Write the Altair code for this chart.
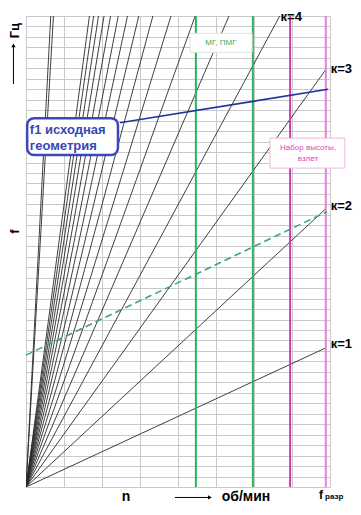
import altair as alt
import pandas as pd

# ---------------- data ----------------
x_grid = list(range(0, 9))      # vertical grid lines (n)
y_grid = list(range(0, 46))     # horizontal grid lines (f)

# harmonic orders k of the rays from the origin, and rise of f per unit n for k=1
k_values = [1, 2, 3, 4, 5, 6, 7, 8, 9, 10, 11, 12, 13, 14, 15, 16, 37, 41]
f_per_n_k1 = 1.685
n_razr = 7.9                    # rays end at f_razr

# f1 original geometry (blue)
f1_n = [2.47, 7.95]
f1_f = [34.8, 38.0]
# dashed green mode
fd_n = [0.0, 7.92]
fd_f = [12.6, 26.3]

# operating regimes (vertical lines)
reg_n = [4.47, 5.97, 6.95, 7.89]
reg_color = ["#2db35d", "#2db35d", "#cc3ab0", "#e681d8"]

# k labels
klab_text = ["к=4", "к=3", "к=2", "к=1"]
klab_n = [6.98, 8.3, 8.3, 8.3]
klab_f = [44.95, 39.9, 26.8, 13.66]

# ---------------- frames ----------------
rows = []
for k in k_values:
    rows.append({"line": f"k{k}", "n": 0.0, "f": 0.0})
    rows.append({"line": f"k{k}", "n": n_razr, "f": k * f_per_n_k1 * n_razr})
lines_df = pd.DataFrame(rows)

xs = alt.Scale(domain=[0, 8], nice=False, zero=False)
ys = alt.Scale(domain=[0, 45], nice=False, zero=False)
xa = alt.Axis(values=x_grid, grid=True, labels=False, ticks=False, domain=False,
              title=None, gridColor="#c9c9c9", gridWidth=1, gridOpacity=1)
ya = alt.Axis(values=y_grid, grid=True, labels=False, ticks=False, domain=False,
              title=None, gridColor="#c9c9c9", gridWidth=1, gridOpacity=1)


def X(field="n"):
    return alt.X(f"{field}:Q", scale=xs, axis=xa)


def Y(field="f"):
    return alt.Y(f"{field}:Q", scale=ys, axis=ya)


klines = alt.Chart(lines_df).mark_line(clip=True, color="#2a2a2a", strokeWidth=0.9).encode(
    x=X(), y=Y(), detail="line:N")

reg_df = pd.DataFrame({"n": reg_n, "c": reg_color})
regimes = alt.Chart(reg_df).mark_rule(strokeWidth=2).encode(
    x=X(), color=alt.Color("c:N", scale=None, legend=None))

fd = alt.Chart(pd.DataFrame({"n": fd_n, "f": fd_f})).mark_line(
    color="#3aa57a", strokeWidth=1.6, strokeDash=[7, 4]).encode(x=X(), y=Y())

f1 = alt.Chart(pd.DataFrame({"n": f1_n, "f": f1_f})).mark_line(
    color="#1d3699", strokeWidth=1.6).encode(x=X(), y=Y())

# boxes
box_df = pd.DataFrame({
    "n": [0.03, 4.32, 6.42], "n2": [2.42, 5.95, 8.39],
    "f": [35.24, 43.34, 33.33], "f2": [31.71, 41.53, 30.47],
    "s": ["#3a48b8", "#d5e6dc", "#f2b6e4"]})
blue_box = alt.Chart(box_df.iloc[[0]]).mark_rect(
    fill="white", stroke="#3a48b8", strokeWidth=2.5, cornerRadius=7).encode(
    x=X(), x2="n2:Q", y=Y(), y2="f2:Q")
other_boxes = alt.Chart(box_df.iloc[[1, 2]]).mark_rect(fill="white", strokeWidth=1).encode(
    x=X(), x2="n2:Q", y=Y(), y2="f2:Q",
    stroke=alt.Stroke("s:N", scale=None, legend=None))

# texts
f1_txt = alt.Chart(pd.DataFrame({"n": [0.1, 0.1], "f": [34.1, 32.55],
                                 "t": ["f1 исходная", "геометрия"]})).mark_text(
    align="left", baseline="middle", font="Liberation Sans", fontWeight="bold",
    fontSize=13, color="#3847b5").encode(x=X(), y=Y(), text="t:N")

mg_txt = alt.Chart(pd.DataFrame({"n": [5.13], "f": [42.4], "t": ["МГ, ПМГ"]})).mark_text(
    align="center", baseline="middle", font="Liberation Sans", fontSize=8,
    color="#3aaa6a").encode(x=X(), y=Y(), text="t:N")

nab_txt = alt.Chart(pd.DataFrame({"n": [7.42, 7.42], "f": [32.35, 31.35],
                                  "t": ["Набор высоты,", "взлет"]})).mark_text(
    align="center", baseline="middle", font="Liberation Sans", fontSize=8,
    color="#e045b8").encode(x=X(), y=Y(), text="t:N")

klab = alt.Chart(pd.DataFrame({"n": klab_n, "f": klab_f, "t": klab_text})).mark_text(
    align="center", baseline="middle", font="Liberation Sans", fontWeight="bold",
    fontSize=13, color="black").encode(x=X(), y=Y(), text="t:N")

# axis annotations
vert_txt = alt.Chart(pd.DataFrame({"n": [-0.3, -0.3], "f": [43.6, 24.4],
                                   "t": ["Гц", "f"]})).mark_text(
    align="center", baseline="middle", angle=270, font="Liberation Sans",
    fontWeight="bold", fontSize=13, color="black").encode(x=X(), y=Y(), text="t:N")

bot_txt = alt.Chart(pd.DataFrame({"n": [2.63, 5.79], "f": [-0.95, -0.95],
                                  "t": ["n", "об/мин"]})).mark_text(
    align="center", baseline="middle", font="Liberation Sans",
    fontWeight="bold", fontSize=14, color="black").encode(x=X(), y=Y(), text="t:N")

fr_txt = alt.Chart(pd.DataFrame({"n": [7.76], "f": [-0.8], "t": ["f"]})).mark_text(
    align="center", baseline="middle", font="Liberation Sans",
    fontWeight="bold", fontSize=12, color="black").encode(x=X(), y=Y(), text="t:N")
fr_sub = alt.Chart(pd.DataFrame({"n": [7.87], "f": [-1.0], "t": ["разр"]})).mark_text(
    align="left", baseline="middle", font="Liberation Sans",
    fontWeight="bold", fontSize=8, color="black").encode(x=X(), y=Y(), text="t:N")

# arrows: shafts and heads
arrow_v = alt.Chart(pd.DataFrame({"n": [-0.33], "f": [38.5], "f2": [42.3]})).mark_rule(
    color="black", strokeWidth=1).encode(x=X(), y=Y(), y2="f2:Q")
arrow_vh = alt.Chart(pd.DataFrame({"n": [-0.33], "f": [42.2]})).mark_point(
    shape="triangle-up", filled=True, size=18, color="black", opacity=1).encode(x=X(), y=Y())
arrow_h = alt.Chart(pd.DataFrame({"n": [3.92], "n2": [4.85], "f": [-1.0]})).mark_rule(
    color="black", strokeWidth=1).encode(x=X(), x2="n2:Q", y=Y())
arrow_hh = alt.Chart(pd.DataFrame({"n": [4.84], "f": [-1.0]})).mark_point(
    shape="triangle-right", filled=True, size=18, color="black", opacity=1).encode(x=X(), y=Y())

chart = alt.layer(
    klines, regimes, fd, f1, blue_box, other_boxes,
    f1_txt, mg_txt, nab_txt, klab, vert_txt, bot_txt, fr_txt, fr_sub,
    arrow_v, arrow_vh, arrow_h, arrow_hh
).properties(
    width=304, height=471,
    padding={"left": 18, "top": 8, "right": 23, "bottom": 16},
    autosize=alt.AutoSizeParams(type="none"),
    background="white",
).configure_view(stroke=None)

chart.save("out.html", embed_options={"renderer": "svg", "actions": False})
